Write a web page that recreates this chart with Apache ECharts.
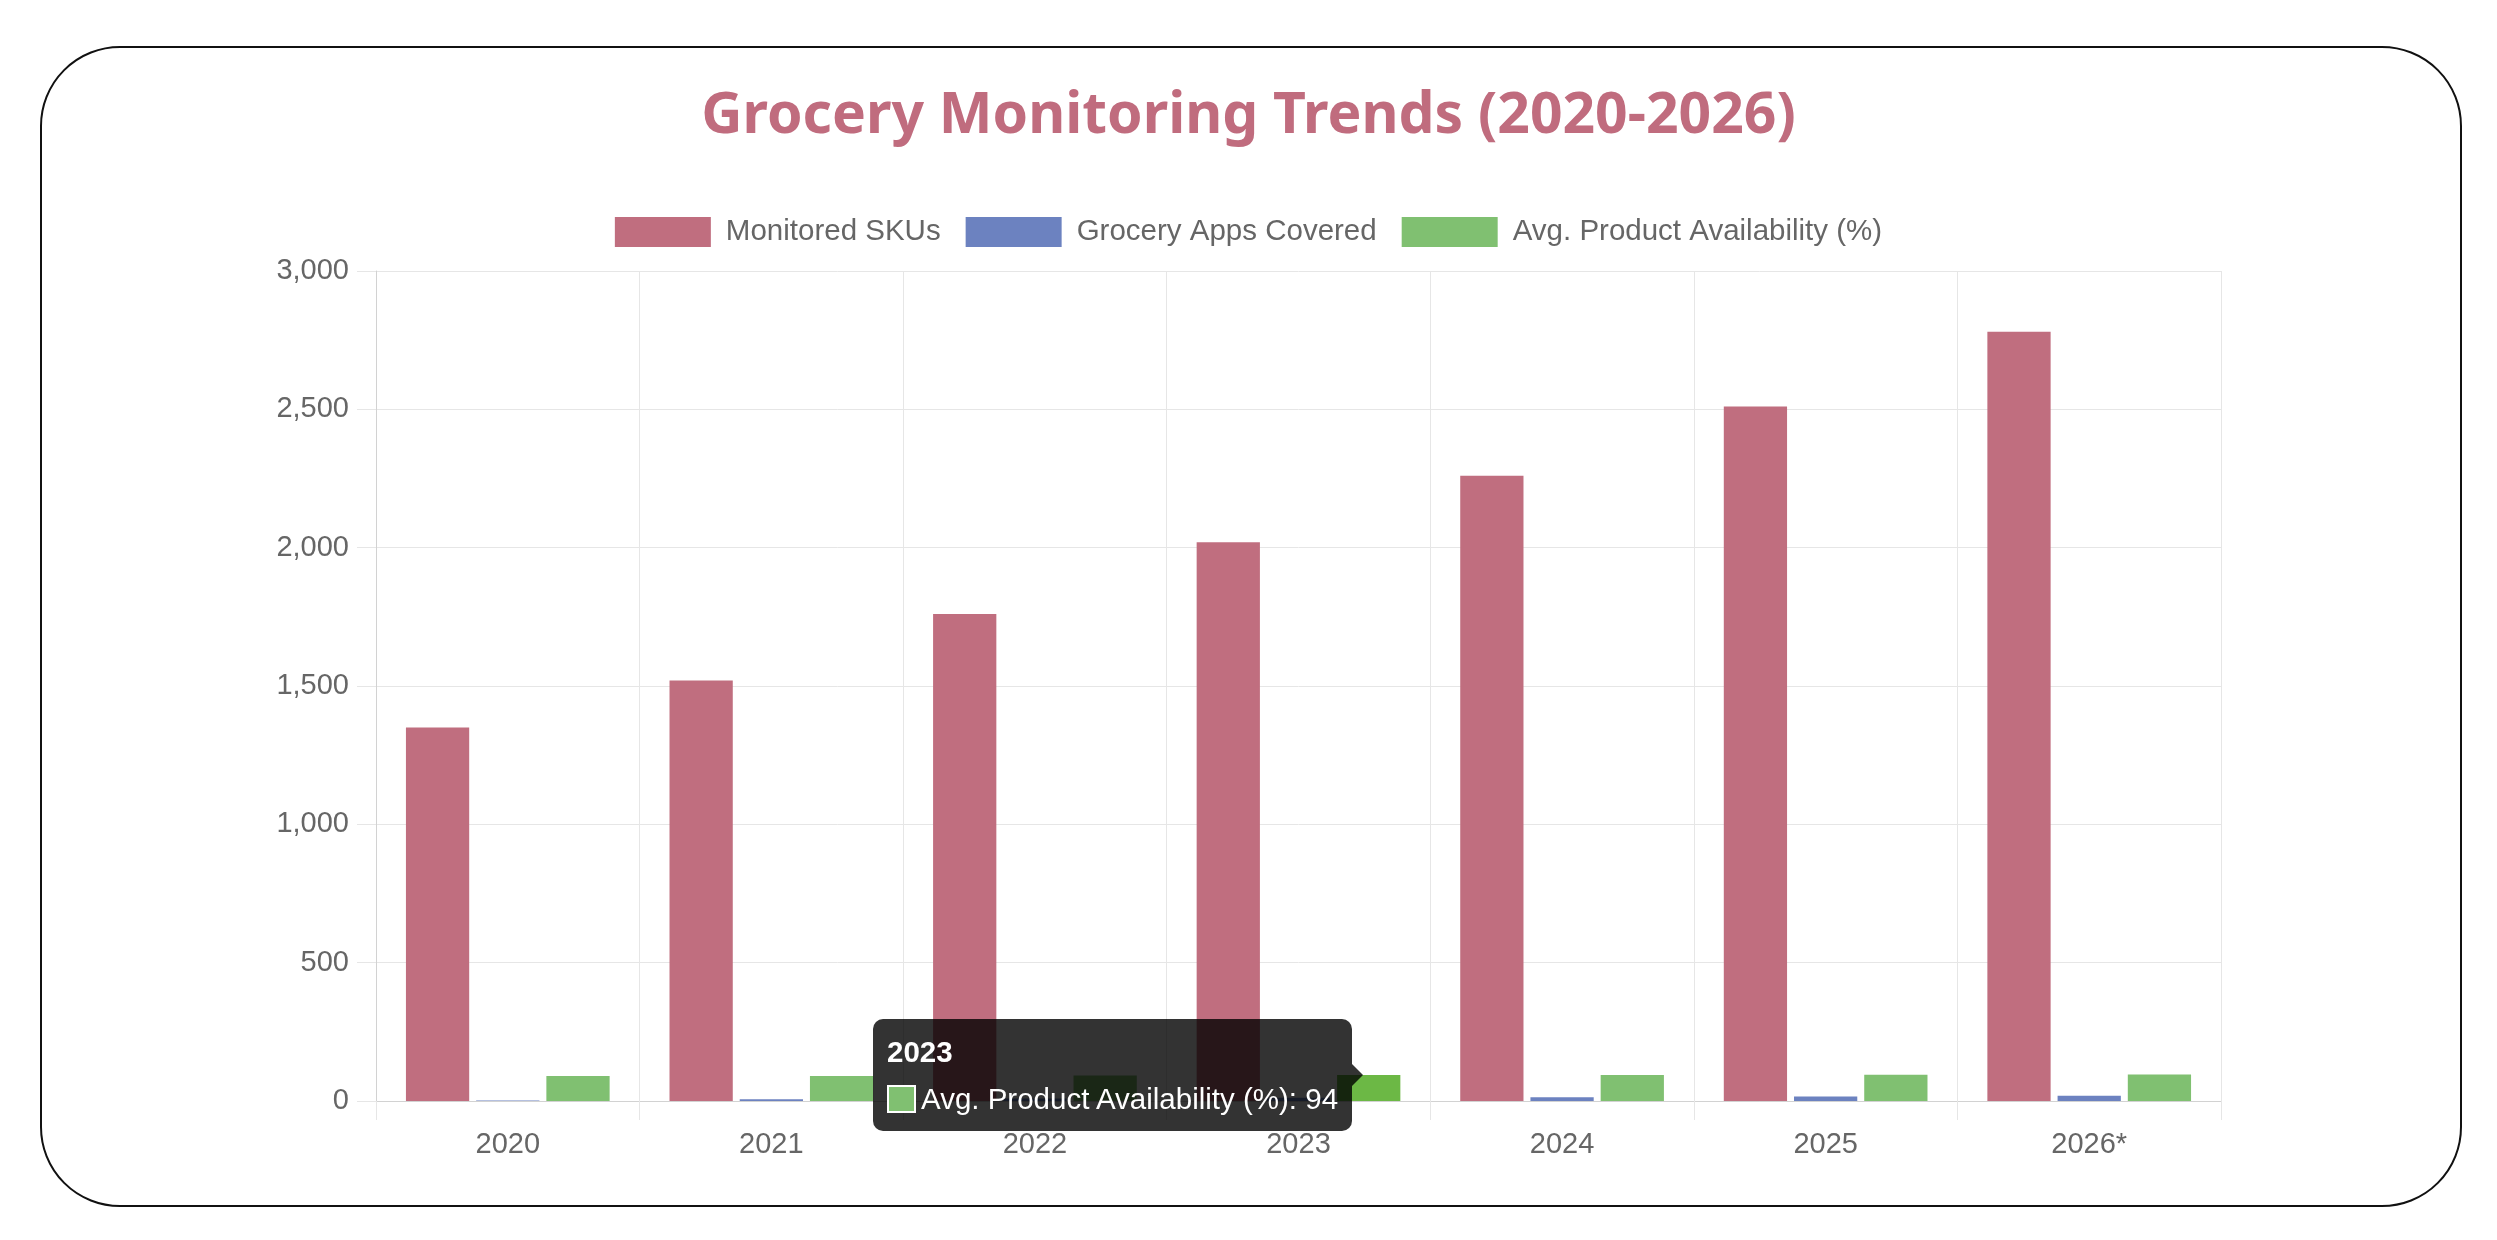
<!DOCTYPE html>
<html>
<head>
<meta charset="utf-8">
<title>Grocery Monitoring Trends</title>
<script src="https://cdn.jsdelivr.net/npm/echarts@6/dist/echarts.min.js"></script>
<style>
    html, body { margin: 0; padding: 0; background: #fff; }
    #card {
        position: absolute;
        left: 40px;
        top: 46px;
        width: 2422px;
        height: 1161px;
        box-sizing: border-box;
        border: 2px solid #111;
        border-radius: 80px;
        background: #fff;
    }
    #chart { position: absolute; left: 0; top: 0; width: 2497px; height: 1240px; }
</style>
</head>
<body>
<div id="card"></div>
<div id="chart"></div>
<script>
// data
const years = ['2020', '2021', '2022', '2023', '2024', '2025', '2026*']
const monitoredSkus = [1350, 1520, 1760, 2020, 2260, 2510, 2780]
const appsCovered = [2, 6, 9, 12, 14, 16, 19]
const availability = [90, 90, 92, 94, 94, 95, 96]
const yTicks = [0, 500, 1000, 1500, 2000, 2500, 3000]

const seriesNames = ['Monitored SKUs', 'Grocery Apps Covered', 'Avg. Product Availability (%)']
const colors = ['#c06e7f', '#6c82c0', '#80c071']

const gridColor = '#e6e6e6'
const axisColor = '#d2d2d2'
const labelFont = "'Liberation Sans', Arial, sans-serif"

const chart = echarts.init(document.getElementById('chart'))

function barSeries(i, data) {
    return {
        name: seriesNames[i],
        type: 'bar',
        data: data,
        barWidth: '24%',
        barGap: '11%',
        itemStyle: { color: colors[i] },
        emphasis: { itemStyle: { color: i === 2 ? '#6cb845' : colors[i] } }
    }
}

const option = {
    animation: false,
    color: colors,
    title: {
        text: 'Grocery Monitoring Trends (2020-2026)',
        left: 'center',
        top: 83,
        textStyle: {
            color: '#c06c7e',
            fontFamily: "'Noto Sans', 'Open Sans', sans-serif",
            fontWeight: 'bold',
            fontSize: 57
        }
    },
    legend: {
        top: 212,
        left: 'center',
        icon: 'rect',
        itemWidth: 96,
        itemHeight: 30,
        itemGap: 25,
        selectedMode: false,
        textStyle: {
            color: '#666',
            fontFamily: labelFont,
            fontSize: 29.5,
            padding: [0, 0, 0, 10]
        }
    },
    grid: {
        left: 376,
        right: 276,
        top: 271,
        bottom: 139,
        containLabel: false
    },
    tooltip: {
        trigger: 'item',
        alwaysShowContent: true,
        transitionDuration: 0,
        backgroundColor: 'rgba(0,0,0,0.8)',
        borderWidth: 0,
        padding: [16, 14, 16, 14],
        extraCssText: 'border-radius:10px;box-shadow:none;',
        formatter: function (p) {
            return '<div style="position:relative">' +
                '<div style="font:bold 29.5px ' + labelFont + ';line-height:33px;color:#fff;margin-bottom:14px">' + p.name + '</div>' +
                '<div style="font:29.5px ' + labelFont + ';line-height:33px;color:#fff;display:flex;align-items:center">' +
                '<span style="display:inline-block;width:25px;height:24px;background:' + colors[p.seriesIndex] + ';border:2px solid #fff;margin-right:5px"></span>' +
                p.seriesName + ': ' + p.value + '</div>' +
                '</div>' +
                '<div style="position:absolute;right:-11px;top:50%;margin-top:-11px;width:0;height:0;' +
                'border-top:11px solid transparent;border-bottom:11px solid transparent;border-left:11px solid rgba(0,0,0,0.8)"></div>'
        },
        position: function (point, params, dom, rect, size) {
            const w = size.contentSize[0]
            const h = size.contentSize[1]
            if (rect) {
                return [rect.x - w + 15, rect.y + rect.height / 2 - h / 2 - 13]
            }
            return [point[0] - w - 20, point[1] - h / 2]
        }
    },
    xAxis: {
        type: 'category',
        data: years,
        axisLine: { show: true, lineStyle: { color: axisColor, width: 1 } },
        axisTick: { show: true, length: 19, lineStyle: { color: gridColor } },
        splitLine: { show: true, lineStyle: { color: gridColor } },
        axisLabel: {
            color: '#666',
            fontFamily: labelFont,
            fontSize: 29,
            margin: 29
        }
    },
    yAxis: {
        type: 'value',
        min: yTicks[0],
        max: yTicks[yTicks.length - 1],
        interval: yTicks[1] - yTicks[0],
        axisLine: { show: true, lineStyle: { color: axisColor, width: 1 } },
        axisTick: { show: true, length: 19, lineStyle: { color: gridColor } },
        splitLine: { show: true, lineStyle: { color: gridColor } },
        axisLabel: {
            color: '#666',
            fontFamily: labelFont,
            fontSize: 29,
            margin: 27,
            formatter: function (v) { return v.toLocaleString('en-US') }
        }
    },
    series: [
        barSeries(0, monitoredSkus),
        barSeries(1, appsCovered),
        barSeries(2, availability)
    ]
}

chart.setOption(option)
chart.dispatchAction({ type: 'highlight', seriesIndex: 2, dataIndex: 3 })
chart.dispatchAction({ type: 'showTip', seriesIndex: 2, dataIndex: 3 })
</script>
</body>
</html>
